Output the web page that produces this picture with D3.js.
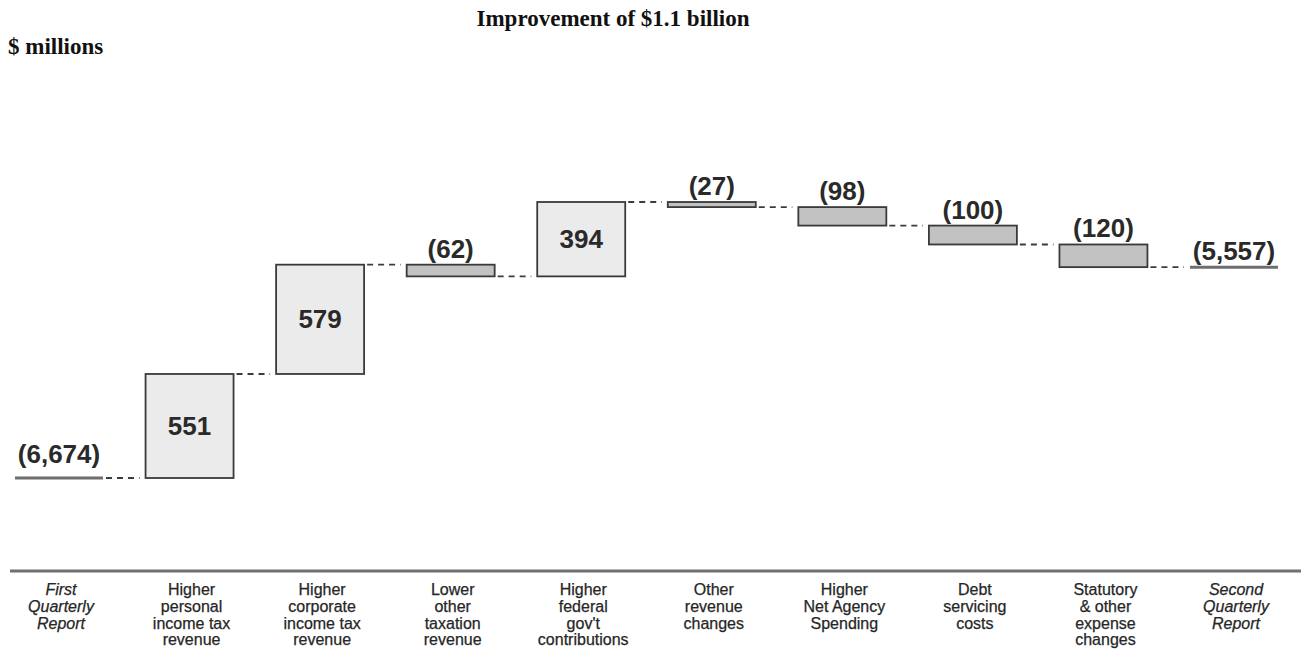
<!DOCTYPE html>
<html>
<head>
<meta charset="utf-8">
<script src="https://cdn.jsdelivr.net/npm/d3@7/dist/d3.min.js"></script>
<style>
  html, body { margin: 0; padding: 0; background: #fff; }
  svg { display: block; }
</style>
</head>
<body>
<svg id="chart" width="1301" height="658"></svg>
<script>
// Budget balance bridge, $ millions
const categories = [
  ["First", "Quarterly", "Report"],
  ["Higher", "personal", "income tax", "revenue"],
  ["Higher", "corporate", "income tax", "revenue"],
  ["Lower", "other", "taxation", "revenue"],
  ["Higher", "federal", "gov't", "contributions"],
  ["Other", "revenue", "changes"],
  ["Higher", "Net Agency", "Spending"],
  ["Debt", "servicing", "costs"],
  ["Statutory", "& other", "expense", "changes"],
  ["Second", "Quarterly", "Report"]
];
const startValue = -6674;
const changes = [551, 579, -62, 394, -27, -98, -100, -120];
const endValue = -5557;
const valueLabels = ["(6,674)", "551", "579", "(62)", "394", "(27)", "(98)", "(100)", "(120)", "(5,557)"];
const title = "Improvement of $1.1 billion";
const unitLabel = "$ millions";

const svg = d3.select("#chart");
const keys = categories.map((c, i) => i);

const x = d3.scaleBand().domain(keys).range([15, 1278]).paddingInner(0.326).paddingOuter(0);
const y = d3.scaleLinear().domain([-6674, -5212]).range([478, 202]);

// build the running totals
const steps = [];
let level = startValue;
steps.push({ i: 0, kind: "total", from: startValue, to: startValue });
changes.forEach((d, k) => {
  steps.push({ i: k + 1, kind: d >= 0 ? "up" : "down", from: level, to: level + d });
  level += d;
});
steps.push({ i: keys.length - 1, kind: "total", from: endValue, to: endValue });

// title and unit
const serif = "'Liberation Serif', 'Times New Roman', serif";
svg.append("text").attr("x", 613).attr("y", 26)
  .attr("text-anchor", "middle")
  .style("font-family", serif)
  .style("font-weight", "bold").style("font-size", "23px").style("fill", "#111")
  .text(title);
svg.append("text").attr("x", 8).attr("y", 54)
  .style("font-family", serif)
  .style("font-weight", "bold").style("font-size", "23px").style("fill", "#111")
  .text(unitLabel);

// dashed connectors between steps
for (let k = 0; k < steps.length - 1; k++) {
  const a = steps[k], b = steps[k + 1];
  svg.append("line")
    .attr("x1", x(a.i) + x.bandwidth() + 3)
    .attr("x2", x(b.i) - 6)
    .attr("y1", y(a.to)).attr("y2", y(a.to))
    .attr("stroke", "#3c3c3c").attr("stroke-width", 1.8)
    .attr("stroke-dasharray", "6,5");
}

// change bars
svg.selectAll("rect.step").data(steps.filter(d => d.kind !== "total"))
  .join("rect").attr("class", "step")
  .attr("x", d => x(d.i))
  .attr("width", x.bandwidth())
  .attr("y", d => y(Math.max(d.from, d.to)))
  .attr("height", d => Math.abs(y(d.from) - y(d.to)))
  .attr("fill", d => d.kind === "up" ? "#ebebeb" : "#c2c2c2")
  .attr("stroke", "#3a3a3a").attr("stroke-width", 1.8);

// opening and closing totals
svg.selectAll("line.total").data(steps.filter(d => d.kind === "total"))
  .join("line").attr("class", "total")
  .attr("x1", d => x(d.i)).attr("x2", d => x(d.i) + x.bandwidth())
  .attr("y1", d => y(d.to)).attr("y2", d => y(d.to))
  .attr("stroke", "#6e6e6e").attr("stroke-width", 3);

// value labels
svg.selectAll("text.value").data(steps)
  .join("text").attr("class", "value")
  .attr("x", d => x(d.i) + x.bandwidth() / 2)
  .attr("y", (d, k) => {
    if (d.kind === "up") return (y(d.from) + y(d.to)) / 2 + 9;
    if (d.kind === "down") return y(d.from) - 7;
    return y(d.to) - (k === 0 ? 15 : 7);
  })
  .attr("text-anchor", "middle")
  .style("font-family", "'Liberation Sans', Arial, sans-serif")
  .style("font-weight", "bold").style("font-size", "26px").style("fill", "#2a2a2a")
  .text((d, k) => valueLabels[k]);

// baseline rule
svg.append("line").attr("x1", 10).attr("x2", 1301).attr("y1", 571).attr("y2", 571)
  .attr("stroke", "#707070").attr("stroke-width", 3);

// category labels
const cat = svg.selectAll("text.cat").data(categories)
  .join("text").attr("class", "cat")
  .attr("text-anchor", "middle")
  .attr("transform", (d, i) => `translate(${x(i) + x.bandwidth() / 2 + 2},0)`)
  .style("font-family", "'Liberation Sans', Arial, sans-serif")
  .style("font-size", "16px").style("fill", "#262626")
  .style("stroke", "#262626").style("stroke-width", 0.25)
  .style("font-style", (d, i) => (i === 0 || i === categories.length - 1) ? "italic" : "normal");
cat.selectAll("tspan").data(d => d).join("tspan")
  .attr("x", 0)
  .attr("y", (d, j) => 595 + j * 16.8)
  .text(d => d);
</script>
</body>
</html>
